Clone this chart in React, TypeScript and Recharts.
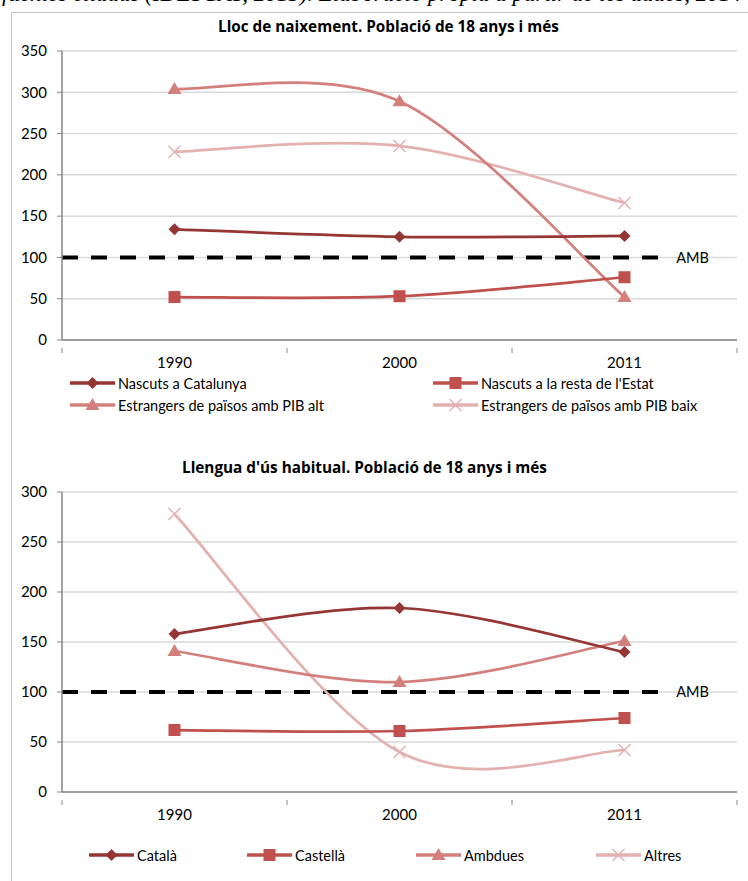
import React from 'react';
import { LineChart, Line, XAxis, YAxis, CartesianGrid, ReferenceLine } from 'recharts';

// categories
const years = ['1990', '2000', '2011'];

// Lloc de naixement (index AMB = 100)
const nascutsCat = [134, 125, 126];
const nascutsEstat = [52, 53, 76];
const pibAlt = [304, 289, 52];
const pibBaix = [228, 235, 166];

// Llengua d'ús habitual (index AMB = 100)
const catala = [158, 184, 140];
const castella = [62, 61, 74];
const ambdues = [141, 110, 151];
const altres = [278, 40, 42];

const AMB = 100;
const ticks1 = [0, 50, 100, 150, 200, 250, 300, 350];
const ticks2 = [0, 50, 100, 150, 200, 250, 300];

const FONT = 'Lato, "Open Sans", sans-serif';
const C1 = '#963634';
const C2 = '#C0504D';
const C3 = '#D3807D';
const C4 = '#E3B1B0';

// suavitzat tipus Excel (bezier amb tangents de Catmull-Rom / 6)
function excelSmooth(context: any) {
  let pts: number[][] = [];
  return {
    areaStart() {},
    areaEnd() {},
    lineStart() {
      pts = [];
    },
    point(x: number, y: number) {
      pts.push([+x, +y]);
    },
    lineEnd() {
      if (!pts.length) return;
      context.moveTo(pts[0][0], pts[0][1]);
      for (let i = 0; i < pts.length - 1; i++) {
        const p0 = pts[i - 1] || pts[i];
        const p1 = pts[i];
        const p2 = pts[i + 1];
        const p3 = pts[i + 2] || p2;
        context.bezierCurveTo(
          p1[0] + (p2[0] - p0[0]) / 6,
          p1[1] + (p2[1] - p0[1]) / 6,
          p2[0] - (p3[0] - p1[0]) / 6,
          p2[1] - (p3[1] - p1[1]) / 6,
          p2[0],
          p2[1]
        );
      }
    },
  };
}

type Shape = 'diamond' | 'square' | 'triangle' | 'cross';

const Marker = ({ shape, cx, cy, color }: { shape: Shape; cx: number; cy: number; color: string }) => {
  if (shape === 'diamond')
    return <polygon points={`${cx},${cy - 6} ${cx + 6},${cy} ${cx},${cy + 6} ${cx - 6},${cy}`} fill={color} />;
  if (shape === 'square') return <rect x={cx - 6} y={cy - 6} width={12} height={12} fill={color} />;
  if (shape === 'triangle')
    return <polygon points={`${cx},${cy - 7} ${cx + 7},${cy + 5} ${cx - 7},${cy + 5}`} fill={color} />;
  return (
    <g stroke={color} strokeWidth={1.5}>
      <line x1={cx - 6} y1={cy - 6} x2={cx + 6} y2={cy + 6} />
      <line x1={cx - 6} y1={cy + 6} x2={cx + 6} y2={cy - 6} />
    </g>
  );
};

const dot = (shape: Shape, color: string) => (props: any) =>
  <Marker key={props.index} shape={shape} cx={props.cx} cy={props.cy} color={color} />;

// tick x: marques als límits de categoria, etiquetes al centre
const XTick = (props: any) => {
  const { x, y, payload } = props;
  const v = payload.value;
  if (!Number.isInteger(v)) {
    return <line x1={x} y1={y} x2={x} y2={y + 5} stroke="#868686" />;
  }
  return (
    <text x={x} y={y + 20} textAnchor="middle" fontSize={15} fill="#000" fontFamily={FONT}>
      {years[v]}
    </text>
  );
};

const LegendItem = ({ x, y, shape, color, label, w = 45 }: any) => (
  <div style={{ position: 'absolute', left: x, top: y - 10, height: 20, display: 'flex', alignItems: 'center', whiteSpace: 'nowrap' }}>
    <svg width={w + 2} height={20}>
      <line x1={1} y1={10} x2={w + 1} y2={10} stroke={color} strokeWidth={3.5} />
      <Marker shape={shape} cx={(w + 2) / 2} cy={10} color={color} />
    </svg>
    <span style={{ fontSize: 14.5, marginLeft: 2 }}>{label}</span>
  </div>
);

function Chart({ data, keys, ticks, max, height, top }: any) {
  return (
    <LineChart width={748} height={height} data={data} margin={{ top, right: 11, bottom: 0, left: 0 }}>
      <CartesianGrid vertical={false} stroke="#d9d9d9" strokeWidth={1.5} />
      <XAxis
        dataKey="i"
        type="number"
        domain={[-0.5, 2.5]}
        ticks={[-0.5, 0, 0.5, 1, 1.5, 2, 2.5]}
        tick={<XTick />}
        tickLine={false}
        axisLine={{ stroke: '#868686', strokeWidth: 1.5 }}
        height={35}
        interval={0}
      />
      <YAxis
        domain={[0, max]}
        ticks={ticks}
        width={62}
        tickSize={5}
        tickMargin={10}
        tick={{ fontSize: 15, fill: '#000', fontFamily: FONT }}
        tickLine={{ stroke: '#868686' }}
        axisLine={{ stroke: '#868686', strokeWidth: 1.5 }}
        interval={0}
      />
      <ReferenceLine
        segment={[{ x: -0.5, y: AMB }, { x: 2.15, y: AMB }]}
        stroke="#000"
        strokeWidth={4}
        strokeDasharray="16 13"
        label={{ value: 'AMB', position: 'right', offset: 18, fontSize: 14.5, fill: '#000', fontFamily: FONT }}
      />
      {keys.map((k: any) => (
        <Line
          key={k.key}
          dataKey={k.key}
          type={excelSmooth as any}
          stroke={k.color}
          strokeWidth={2.75}
          dot={dot(k.shape, k.color)}
          activeDot={false}
          isAnimationActive={false}
        />
      ))}
    </LineChart>
  );
}

const data1 = years.map((y, i) => ({ i, year: y, a: nascutsCat[i], b: nascutsEstat[i], c: pibAlt[i], d: pibBaix[i] }));
const data2 = years.map((y, i) => ({ i, year: y, a: catala[i], b: castella[i], c: ambdues[i], d: altres[i] }));

const keys = [
  { key: 'd', color: C4, shape: 'cross' },
  { key: 'c', color: C3, shape: 'triangle' },
  { key: 'b', color: C2, shape: 'square' },
  { key: 'a', color: C1, shape: 'diamond' },
];

const titleStyle: React.CSSProperties = {
  position: 'absolute', fontSize: 15.3, fontWeight: 700, whiteSpace: 'nowrap', fontFamily: '"Open Sans", sans-serif',
};

export default function App() {
  return (
    <div style={{ position: 'absolute', left: 0, top: 0, width: 748, height: 881, overflow: 'hidden', background: '#fff', fontFamily: FONT }}>
      <div
        style={{
          position: 'absolute', left: 2, top: -18, fontFamily: '"Liberation Serif", serif', fontStyle: 'italic',
          fontSize: 23, lineHeight: '23px', whiteSpace: 'nowrap',
        }}
      >
        fuentes citadas (IDESCAT, 2013). Elaboració pròpia a partir de les dades, 2014
      </div>
      <div style={{ position: 'absolute', left: 11, top: 12, width: 800, height: 900, borderLeft: '1px solid #c8c8c8', borderTop: '1px solid #c8c8c8' }} />

      <div style={{ position: 'absolute', left: 0, top: 0 }}>
        <Chart data={data1} keys={keys} ticks={ticks1} max={350} height={375} top={51} />
      </div>
      <div style={{ ...titleStyle, left: 218, top: 16 }}>Lloc de naixement. Població de 18 anys i més</div>
      <LegendItem x={69} y={383} shape="diamond" color={C1} label="Nascuts a Catalunya" />
      <LegendItem x={432} y={383} shape="square" color={C2} label="Nascuts a la resta de l'Estat" />
      <LegendItem x={69} y={405} shape="triangle" color={C3} label="Estrangers de països amb PIB alt" />
      <LegendItem x={432} y={405} shape="cross" color={C4} label="Estrangers de països amb PIB baix" />

      <div style={{ position: 'absolute', left: 0, top: 440 }}>
        <Chart data={data2} keys={keys} ticks={ticks2} max={300} height={387} top={52} />
      </div>
      <div style={{ ...titleStyle, left: 182, top: 457 }}>Llengua d'ús habitual. Població de 18 anys i més</div>
      <LegendItem x={88} y={855} shape="diamond" color={C1} label="Català" />
      <LegendItem x={246} y={855} shape="square" color={C2} label="Castellà" />
      <LegendItem x={415} y={855} shape="triangle" color={C3} label="Ambdues" />
      <LegendItem x={595} y={855} shape="cross" color={C4} label="Altres" />
    </div>
  );
}
